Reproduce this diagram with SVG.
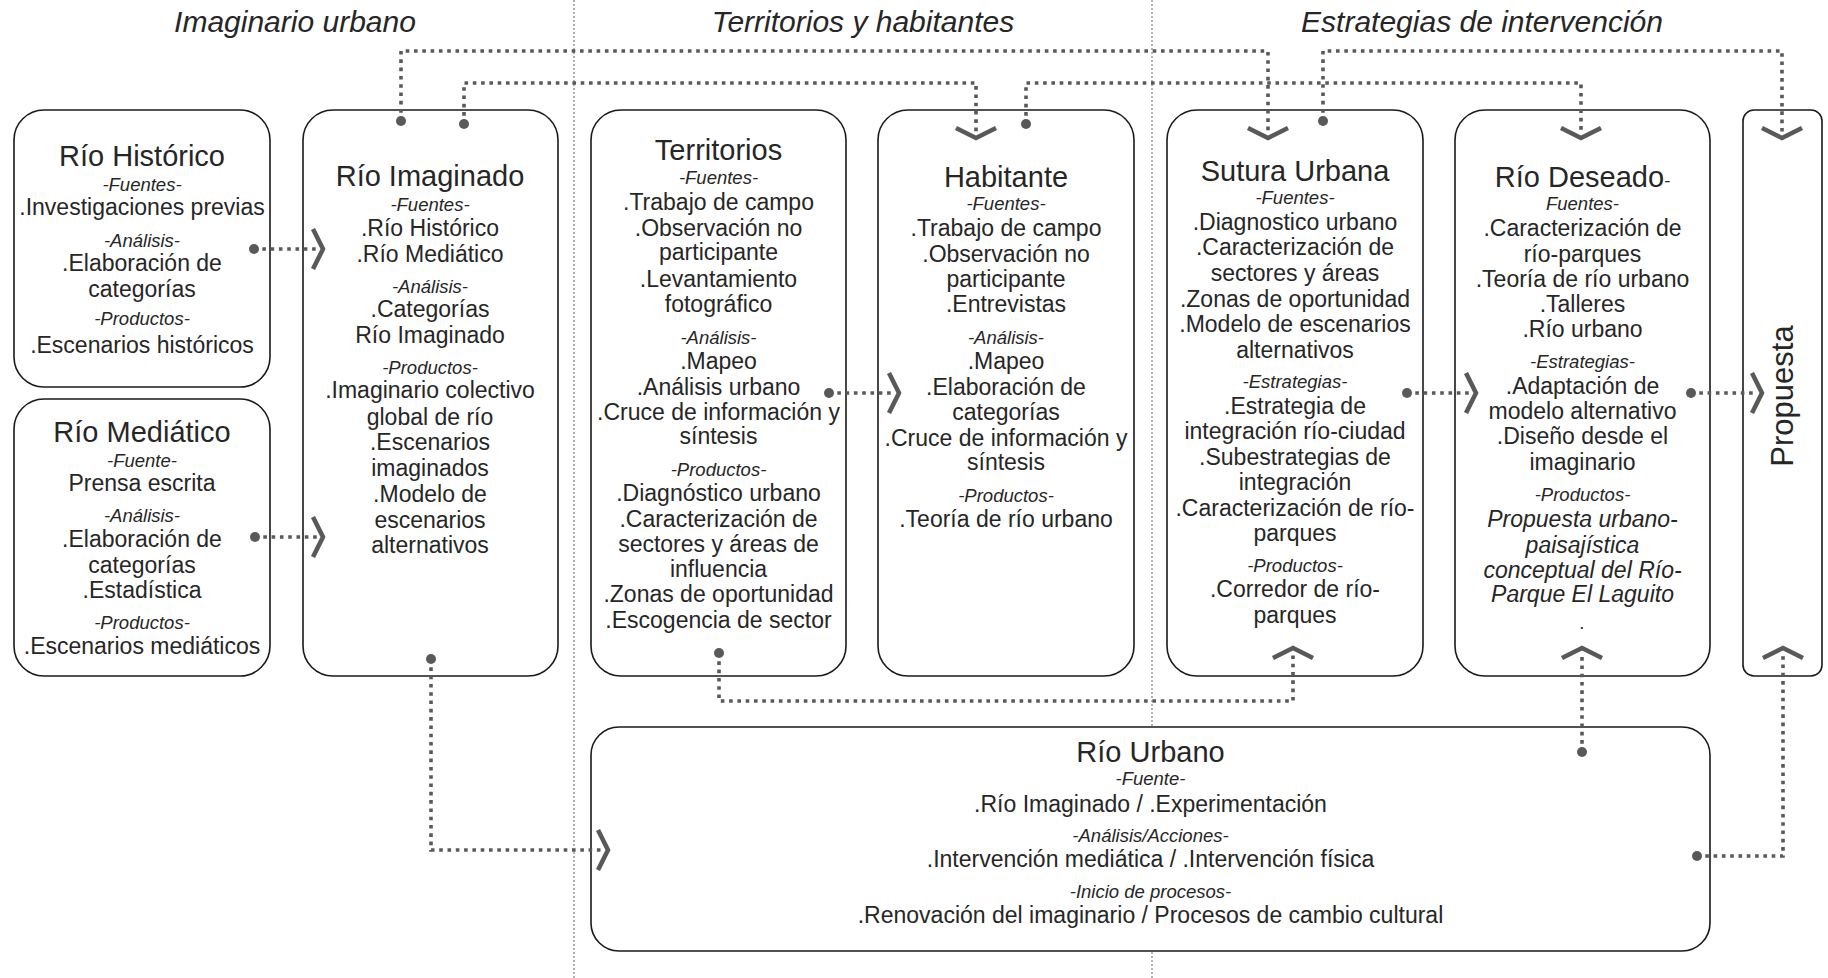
<svg xmlns="http://www.w3.org/2000/svg" width="1828" height="978" viewBox="0 0 1828 978">
<style>
.bg{fill:#ffffff}
.box{fill:#ffffff;stroke:#1a1a1a;stroke-width:1.6}
.t{font-family:"Liberation Sans",Arial,sans-serif;fill:#262626;text-anchor:middle}
.ti{font-size:29px}
.b{font-size:23px}
.l{font-size:18.5px;font-style:italic}
.bi{font-size:23px;font-style:italic}
.hdr{font-size:30px;font-style:italic}
.con{fill:none;stroke:#595959;stroke-width:3.6;stroke-dasharray:3.6 4.7}
.chev{fill:none;stroke:#595959;stroke-width:4.5;stroke-linecap:butt;stroke-linejoin:miter}
.dot{fill:#595959}
.div{stroke:#8c8c8c;stroke-width:1.3;stroke-dasharray:2 2;fill:none}
</style>
<rect class="bg" x="0" y="0" width="1828" height="978"/>
<g id="dividers">
<line class="div" x1="574" y1="0" x2="574" y2="978"/>
<line class="div" x1="1152" y1="0" x2="1152" y2="978"/>
</g>
<g id="headers">
<text class="t hdr" x="295" y="32">Imaginario urbano</text>
<text class="t hdr" x="863" y="32">Territorios y habitantes</text>
<text class="t hdr" x="1482" y="32">Estrategias de intervención</text>
</g>
<g id="rio-historico">
<rect class="box" x="14" y="110" width="256" height="277" rx="30"/>
<text class="t ti" x="142" y="166">Río Histórico</text>
<text class="t l" x="142" y="191">-Fuentes-</text>
<text class="t b" x="142" y="215">.Investigaciones previas</text>
<text class="t l" x="142" y="247">-Análisis-</text>
<text class="t b" x="142" y="271">.Elaboración de</text>
<text class="t b" x="142" y="297">categorías</text>
<text class="t l" x="142" y="325">-Productos-</text>
<text class="t b" x="142" y="353">.Escenarios históricos</text>
</g>
<g id="rio-mediatico">
<rect class="box" x="14" y="399" width="256" height="277" rx="30"/>
<text class="t ti" x="142" y="442">Río Mediático</text>
<text class="t l" x="142" y="467">-Fuente-</text>
<text class="t b" x="142" y="491">Prensa escrita</text>
<text class="t l" x="142" y="522">-Análisis-</text>
<text class="t b" x="142" y="547">.Elaboración de</text>
<text class="t b" x="142" y="573">categorías</text>
<text class="t b" x="142" y="598">.Estadística</text>
<text class="t l" x="142" y="629">-Productos-</text>
<text class="t b" x="142" y="654">.Escenarios mediáticos</text>
</g>
<g id="rio-imaginado">
<rect class="box" x="303" y="110" width="255" height="566" rx="30"/>
<text class="t ti" x="430" y="186">Río Imaginado</text>
<text class="t l" x="430" y="211">-Fuentes-</text>
<text class="t b" x="430" y="236">.Río Histórico</text>
<text class="t b" x="430" y="262">.Río Mediático</text>
<text class="t l" x="430" y="293">-Análisis-</text>
<text class="t b" x="430" y="317">.Categorías</text>
<text class="t b" x="430" y="343">Río Imaginado</text>
<text class="t l" x="430" y="374">-Productos-</text>
<text class="t b" x="430" y="398">.Imaginario colectivo</text>
<text class="t b" x="430" y="425">global de río</text>
<text class="t b" x="430" y="450">.Escenarios</text>
<text class="t b" x="430" y="476">imaginados</text>
<text class="t b" x="430" y="502">.Modelo de</text>
<text class="t b" x="430" y="528">escenarios</text>
<text class="t b" x="430" y="553">alternativos</text>
</g>
<g id="territorios">
<rect class="box" x="591" y="110" width="255" height="566" rx="30"/>
<text class="t ti" x="718.5" y="160">Territorios</text>
<text class="t l" x="718.5" y="184">-Fuentes-</text>
<text class="t b" x="718.5" y="210">.Trabajo de campo</text>
<text class="t b" x="718.5" y="236">.Observación no</text>
<text class="t b" x="718.5" y="260">participante</text>
<text class="t b" x="718.5" y="287">.Levantamiento</text>
<text class="t b" x="718.5" y="312">fotográfico</text>
<text class="t l" x="718.5" y="344">-Análisis-</text>
<text class="t b" x="718.5" y="369">.Mapeo</text>
<text class="t b" x="718.5" y="395">.Análisis urbano</text>
<text class="t b" x="718.5" y="420">.Cruce de información y</text>
<text class="t b" x="718.5" y="444">síntesis</text>
<text class="t l" x="718.5" y="476">-Productos-</text>
<text class="t b" x="718.5" y="501">.Diagnóstico urbano</text>
<text class="t b" x="718.5" y="527">.Caracterización de</text>
<text class="t b" x="718.5" y="552">sectores y áreas de</text>
<text class="t b" x="718.5" y="577">influencia</text>
<text class="t b" x="718.5" y="602">.Zonas de oportunidad</text>
<text class="t b" x="718.5" y="628">.Escogencia de sector</text>
</g>
<g id="habitante">
<rect class="box" x="878" y="110" width="256" height="566" rx="30"/>
<text class="t ti" x="1006" y="187">Habitante</text>
<text class="t l" x="1006" y="210">-Fuentes-</text>
<text class="t b" x="1006" y="236">.Trabajo de campo</text>
<text class="t b" x="1006" y="262">.Observación no</text>
<text class="t b" x="1006" y="287">participante</text>
<text class="t b" x="1006" y="312">.Entrevistas</text>
<text class="t l" x="1006" y="344">-Análisis-</text>
<text class="t b" x="1006" y="369">.Mapeo</text>
<text class="t b" x="1006" y="395">.Elaboración de</text>
<text class="t b" x="1006" y="420">categorías</text>
<text class="t b" x="1006" y="446">.Cruce de información y</text>
<text class="t b" x="1006" y="470">síntesis</text>
<text class="t l" x="1006" y="502">-Productos-</text>
<text class="t b" x="1006" y="527">.Teoría de río urbano</text>
</g>
<g id="sutura-urbana">
<rect class="box" x="1167" y="110" width="256" height="566" rx="30"/>
<text class="t ti" x="1295" y="181">Sutura Urbana</text>
<text class="t l" x="1295" y="204">-Fuentes-</text>
<text class="t b" x="1295" y="230">.Diagnostico urbano</text>
<text class="t b" x="1295" y="255">.Caracterización de</text>
<text class="t b" x="1295" y="281">sectores y áreas</text>
<text class="t b" x="1295" y="307">.Zonas de oportunidad</text>
<text class="t b" x="1295" y="332">.Modelo de escenarios</text>
<text class="t b" x="1295" y="358">alternativos</text>
<text class="t l" x="1295" y="388">-Estrategias-</text>
<text class="t b" x="1295" y="414">.Estrategia de</text>
<text class="t b" x="1295" y="439">integración río-ciudad</text>
<text class="t b" x="1295" y="465">.Subestrategias de</text>
<text class="t b" x="1295" y="490">integración</text>
<text class="t b" x="1295" y="516">.Caracterización de río-</text>
<text class="t b" x="1295" y="541">parques</text>
<text class="t l" x="1295" y="572">-Productos-</text>
<text class="t b" x="1295" y="597">.Corredor de río-</text>
<text class="t b" x="1295" y="623">parques</text>
</g>
<g id="rio-deseado">
<rect class="box" x="1455" y="110" width="255" height="566" rx="30"/>
<text class="t ti" x="1582.5" y="187">Río Deseado<tspan style="font-size:18.5px;font-style:italic">-</tspan></text>
<text class="t l" x="1582.5" y="210">Fuentes-</text>
<text class="t b" x="1582.5" y="236">.Caracterización de</text>
<text class="t b" x="1582.5" y="262">río-parques</text>
<text class="t b" x="1582.5" y="287">.Teoría de río urbano</text>
<text class="t b" x="1582.5" y="312">.Talleres</text>
<text class="t b" x="1582.5" y="337">.Río urbano</text>
<text class="t l" x="1582.5" y="368">-Estrategias-</text>
<text class="t b" x="1582.5" y="394">.Adaptación de</text>
<text class="t b" x="1582.5" y="419">modelo alternativo</text>
<text class="t b" x="1582.5" y="444">.Diseño desde el</text>
<text class="t b" x="1582.5" y="470">imaginario</text>
<text class="t l" x="1582.5" y="501">-Productos-</text>
<text class="t bi" x="1582.5" y="527">Propuesta urbano-</text>
<text class="t bi" x="1582.5" y="553">paisajística</text>
<text class="t bi" x="1582.5" y="578">conceptual del Río-</text>
<text class="t bi" x="1582.5" y="602">Parque El Laguito</text>
<text class="t l" x="1582.5" y="629">.</text>
</g>
<g id="propuesta">
<rect class="box" x="1743" y="110" width="79" height="566" rx="11"/>
<text class="t" style="font-size:31px" transform="translate(1793,396) rotate(-90)" x="0" y="0">Propuesta</text>
</g>
<g id="rio-urbano">
<rect class="box" x="591" y="727" width="1119" height="224" rx="28"/>
<text class="t ti" x="1150.5" y="762">Río Urbano</text>
<text class="t l" x="1150.5" y="785">-Fuente-</text>
<text class="t b" x="1150.5" y="812">.Río Imaginado / .Experimentación</text>
<text class="t l" x="1150.5" y="842">-Análisis/Acciones-</text>
<text class="t b" x="1150.5" y="867">.Intervención mediática / .Intervención física</text>
<text class="t l" x="1150.5" y="898">-Inicio de procesos-</text>
<text class="t b" x="1150.5" y="923">.Renovación del imaginario / Procesos de cambio cultural</text>
</g>
<g id="connectors">
<path class="con" d="M401,121 V51 H1268 V133"/>
<path class="chev" d="M1248,128 L1268,138 L1288,128"/>
<circle class="dot" cx="401" cy="121" r="5"/>
<path class="con" d="M1323,121 V51 H1782 V133"/>
<path class="chev" d="M1762,128 L1782,138 L1802,128"/>
<circle class="dot" cx="1323" cy="121" r="5"/>
<path class="con" d="M464,124 V83 H976 V133"/>
<path class="chev" d="M956,128 L976,138 L996,128"/>
<circle class="dot" cx="464" cy="124" r="5"/>
<path class="con" d="M1026,124 V83 H1581 V133"/>
<path class="chev" d="M1561,128 L1581,138 L1601,128"/>
<circle class="dot" cx="1026" cy="124" r="5"/>
<path class="con" d="M719,653 V701 H1293 V653"/>
<path class="chev" d="M1273,658 L1293,648 L1313,658"/>
<circle class="dot" cx="719" cy="653" r="5"/>
<path class="con" d="M1582,752 V653"/>
<path class="chev" d="M1562,658 L1582,648 L1602,658"/>
<circle class="dot" cx="1582" cy="752" r="5"/>
<path class="con" d="M1697,856 H1783 V653"/>
<path class="chev" d="M1763,658 L1783,648 L1803,658"/>
<circle class="dot" cx="1697" cy="856" r="5"/>
<path class="con" d="M431,659 V850 H603"/>
<path class="chev" d="M598,830 L608,850 L598,870"/>
<circle class="dot" cx="431" cy="659" r="5"/>
<path class="con" d="M254,249 H318"/>
<path class="chev" d="M313,229 L323,249 L313,269"/>
<circle class="dot" cx="254" cy="249" r="5"/>
<path class="con" d="M255,537 H318"/>
<path class="chev" d="M313,517 L323,537 L313,557"/>
<circle class="dot" cx="255" cy="537" r="5"/>
<path class="con" d="M829,393 H894"/>
<path class="chev" d="M889,373 L899,393 L889,413"/>
<circle class="dot" cx="829" cy="393" r="5"/>
<path class="con" d="M1407,393 H1471"/>
<path class="chev" d="M1466,373 L1476,393 L1466,413"/>
<circle class="dot" cx="1407" cy="393" r="5"/>
<path class="con" d="M1691,393 H1757"/>
<path class="chev" d="M1752,373 L1762,393 L1752,413"/>
<circle class="dot" cx="1691" cy="393" r="5"/>
</g>
</svg>
